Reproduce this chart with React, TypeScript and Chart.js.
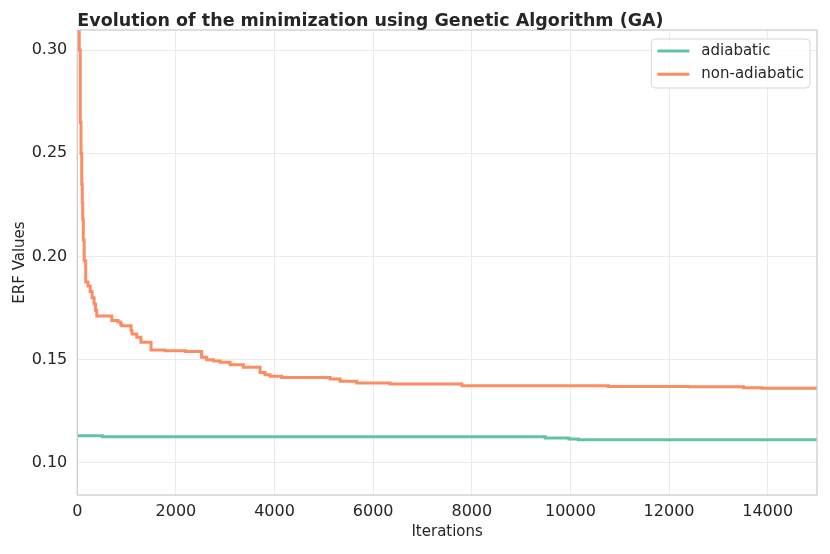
import { useEffect, useRef } from 'react';
import { Chart, registerables } from 'chart.js';
import type { Plugin } from 'chart.js';

Chart.register(...registerables);

const chartTitle = 'Evolution of the minimization using Genetic Algorithm (GA)';
const xTitle = 'Iterations';
const yTitle = 'ERF Values';
const seriesNames = ['adiabatic', 'non-adiabatic'];
const seriesColors = ['#66c2a5', '#fc8d62'];

// iteration at which the best ERF value changes, and the new value
const adiabaticIter = [0, 510, 9490, 9970, 10160, 15000];
const adiabaticErf = [0.1132, 0.1127, 0.1121, 0.1116, 0.1112, 0.1112];

const nonAdiabaticIter = [
  0, 40, 60, 75, 90, 101, 110, 122, 140, 171, 217, 260, 300, 340, 370, 394,
  700, 826, 880, 900, 1090, 1110, 1205, 1290, 1495, 1780, 2200, 2520, 2625,
  2760, 2895, 3097, 3367, 3706, 3807, 3909, 4146, 5125, 5329, 5667, 6343,
  7800, 10770, 12400, 13509, 13882, 15000,
];
const nonAdiabaticErf = [
  0.345, 0.3, 0.265, 0.25, 0.235, 0.226, 0.218, 0.208, 0.198, 0.1876, 0.1857,
  0.183, 0.18, 0.177, 0.174, 0.1712, 0.169, 0.1683, 0.1672, 0.1665, 0.164,
  0.1625, 0.1609, 0.1585, 0.1547, 0.1543, 0.154, 0.1512, 0.15, 0.1494, 0.1488,
  0.1476, 0.1464, 0.1438, 0.1427, 0.142, 0.1414, 0.1407, 0.1396, 0.1388,
  0.1383, 0.1374, 0.1371, 0.1369, 0.1365, 0.1362, 0.1362,
];

const xTicks = [0, 2000, 4000, 6000, 8000, 10000, 12000, 14000];
const yTicks = [0.1, 0.15, 0.2, 0.25, 0.3];

const FONT = "'DejaVu Sans', sans-serif";
const TEXT = '#262626';

const toPoints = (xs: number[], ys: number[]) => xs.map((x, i) => ({ x, y: ys[i] }));

// title above the plot, the frame, and the legend box inside the plot
const decorations: Plugin = {
  id: 'decorations',
  afterDatasetsDraw(chart) {
    const { ctx, chartArea } = chart;
    ctx.save();
    ctx.strokeStyle = '#cccccc';
    ctx.lineWidth = 1.25;
    ctx.strokeRect(chartArea.left, chartArea.top, chartArea.width, chartArea.height);
    ctx.restore();
  },
  afterDraw(chart) {
    const { ctx, chartArea } = chart;
    ctx.save();
    ctx.fillStyle = TEXT;
    ctx.font = `bold 17.5px ${FONT}`;
    ctx.textBaseline = 'alphabetic';
    ctx.textAlign = 'left';
    ctx.fillText(chartTitle, chartArea.left, 26);

    ctx.textBaseline = 'middle';
    ctx.font = `15px ${FONT}`;
    const names = chart.data.datasets.map((d) => String(d.label));
    const textW = Math.max(...names.map((n) => ctx.measureText(n).width));
    const w = 50 + textW + 6;
    const h = 49;
    const bx = chartArea.right - 7 - w;
    const by = chartArea.top + 9;
    ctx.beginPath();
    ctx.roundRect(bx, by, w, h, 4);
    ctx.fillStyle = 'rgba(255,255,255,0.8)';
    ctx.fill();
    ctx.strokeStyle = '#d6d6d6';
    ctx.lineWidth = 1;
    ctx.stroke();
    names.forEach((n, i) => {
      const y = by + 12 + i * 23.3;
      ctx.beginPath();
      ctx.strokeStyle = String(chart.data.datasets[i].borderColor);
      ctx.lineWidth = 3;
      ctx.moveTo(bx + 6, y);
      ctx.lineTo(bx + 38, y);
      ctx.stroke();
      ctx.fillStyle = TEXT;
      ctx.fillText(n, bx + 50, y);
    });
    ctx.restore();
  },
};

export default function App() {
  const canvasRef = useRef<HTMLCanvasElement>(null);
  const chartInstance = useRef<Chart | null>(null);

  useEffect(() => {
    if (!canvasRef.current) return;
    if (chartInstance.current) chartInstance.current.destroy();

    chartInstance.current = new Chart(canvasRef.current, {
      type: 'line',
      data: {
        datasets: [
          {
            label: seriesNames[0],
            data: toPoints(adiabaticIter, adiabaticErf),
            borderColor: seriesColors[0],
            borderWidth: 3,
            pointRadius: 0,
            stepped: 'before',
            clip: 0,
          },
          {
            label: seriesNames[1],
            data: toPoints(nonAdiabaticIter, nonAdiabaticErf),
            borderColor: seriesColors[1],
            borderWidth: 3,
            pointRadius: 0,
            stepped: 'before',
            clip: 0,
          },
        ],
      },
      options: {
        responsive: true,
        maintainAspectRatio: false,
        animation: false,
        events: [],
        layout: { padding: { top: 30, right: 13, left: 0, bottom: 0 } },
        plugins: {
          legend: { display: false },
          tooltip: { enabled: false },
          title: { display: false },
        },
        scales: {
          x: {
            type: 'linear',
            min: 0,
            max: 15000,
            afterBuildTicks: (scale) => {
              scale.ticks = xTicks.map((v) => ({ value: v }));
            },
            afterFit: (scale) => {
              scale.height = 59;
            },
            ticks: {
              color: TEXT,
              font: { family: FONT, size: 16 },
              padding: 7,
              maxRotation: 0,
              callback: (v) => String(v),
            },
            grid: { color: '#ebebeb', lineWidth: 1, drawTicks: false },
            border: { display: false },
            title: {
              display: true,
              text: xTitle,
              color: TEXT,
              font: { family: FONT, size: 15 },
              padding: { top: 0, bottom: 13 },
            },
          },
          y: {
            type: 'linear',
            min: 0.0845,
            max: 0.3097,
            afterBuildTicks: (scale) => {
              scale.ticks = yTicks.map((v) => ({ value: v }));
            },
            afterFit: (scale) => {
              scale.width = 77.3;
            },
            ticks: {
              color: TEXT,
              font: { family: FONT, size: 16 },
              padding: 10,
              callback: (v) => Number(v).toFixed(2),
            },
            grid: { color: '#ebebeb', lineWidth: 1, drawTicks: false },
            border: { display: false },
            title: {
              display: true,
              text: yTitle,
              color: TEXT,
              font: { family: FONT, size: 15 },
              padding: { top: 11, bottom: 0 },
            },
          },
        },
      },
      plugins: [decorations],
    });

    return () => {
      if (chartInstance.current) {
        chartInstance.current.destroy();
        chartInstance.current = null;
      }
    };
  }, []);

  return (
    <div style={{ position: 'fixed', left: 0, top: 0, width: 830, height: 554, background: '#fff' }}>
      <canvas ref={canvasRef} />
    </div>
  );
}
